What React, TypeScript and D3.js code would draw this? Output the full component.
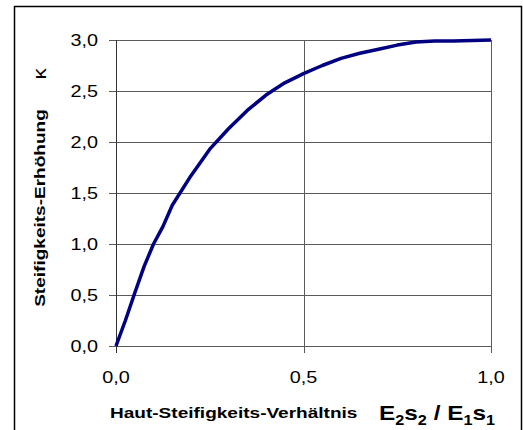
import { useEffect, useRef } from "react";
import * as d3 from "d3";

// Haut-Steifigkeits-Verhältnis (x) vs. Steifigkeits-Erhöhung kappa (y)
const ratio = [0, 0.025, 0.05, 0.075, 0.1, 0.125, 0.15, 0.2, 0.25, 0.3, 0.35, 0.4, 0.45, 0.5, 0.55, 0.6, 0.65, 0.7, 0.75, 0.8, 0.85, 0.9, 0.95, 1.0];
const kappa = [0, 0.25, 0.52, 0.78, 1.0, 1.17, 1.38, 1.67, 1.93, 2.13, 2.31, 2.46, 2.58, 2.67, 2.75, 2.82, 2.87, 2.91, 2.95, 2.98, 2.99, 2.99, 2.995, 3.0];

const yTicks = [0, 0.5, 1.0, 1.5, 2.0, 2.5, 3.0];
const xTicks = [0, 0.5, 1.0];

const fmt = (v: number) => v.toFixed(1).replace(".", ",");

export default function App() {
  const svgRef = useRef<SVGSVGElement>(null);

  useEffect(() => {
    if (!svgRef.current) return;
    const svg = d3.select(svgRef.current);
    svg.selectAll("*").remove();

    const font = "'Liberation Sans', Arial, sans-serif";
    const plot = { left: 116, right: 491, top: 40, bottom: 346 };
    // the source picture is stretched sideways, text included
    const sx = 1.24;

    const x = d3.scaleLinear().domain([0, 1]).range([plot.left, plot.right]);
    const y = d3.scaleLinear().domain([0, 3]).range([plot.bottom, plot.top]);

    // outer frame (bottom edge lies outside the picture)
    svg.append("path")
      .attr("d", "M14.5,440 V6.5 H521.5 V440")
      .style("fill", "none")
      .style("stroke", "#000")
      .style("stroke-width", 1.5);

    // horizontal grid lines + ticks
    svg.append("g")
      .selectAll("line")
      .data(yTicks)
      .enter()
      .append("line")
      .attr("x1", plot.left - 7)
      .attr("x2", plot.right)
      .attr("y1", (d) => Math.round(y(d)) + 0.5)
      .attr("y2", (d) => Math.round(y(d)) + 0.5)
      .style("stroke", "#5a5a5a")
      .style("stroke-width", 1);

    // vertical grid lines + ticks
    svg.append("g")
      .selectAll("line")
      .data(xTicks)
      .enter()
      .append("line")
      .attr("x1", (d) => Math.round(x(d)) + 0.5)
      .attr("x2", (d) => Math.round(x(d)) + 0.5)
      .attr("y1", plot.top)
      .attr("y2", plot.bottom + 7)
      .style("stroke", (d) => (d === 0 ? "#333" : "#5a5a5a"))
      .style("stroke-width", 1);

    // y tick labels
    svg.append("g")
      .selectAll("text")
      .data(yTicks)
      .enter()
      .append("text")
      .attr("transform", (d) => `translate(98,${y(d)}) scale(${sx},1)`)
      .attr("dy", "0.36em")
      .attr("text-anchor", "end")
      .style("font-family", font)
      .style("font-size", "16px")
      .style("fill", "#000")
      .text((d) => fmt(d));

    // x tick labels
    svg.append("g")
      .selectAll("text")
      .data(xTicks)
      .enter()
      .append("text")
      .attr("transform", (d) => `translate(${x(d)},383) scale(${sx},1)`)
      .attr("text-anchor", "middle")
      .style("font-family", font)
      .style("font-size", "16px")
      .style("fill", "#000")
      .text((d) => fmt(d));

    // curve
    svg.append("path")
      .datum(kappa)
      .attr("d", d3.line<number>().x((d, i) => x(ratio[i])).y((d) => y(d)))
      .style("fill", "none")
      .style("stroke", "#000080")
      .style("stroke-width", 3.5)
      .style("stroke-linejoin", "round");

    // x axis title
    svg.append("text")
      .attr("transform", `translate(110,418) scale(${sx + 0.03},1)`)
      .style("font-family", font)
      .style("font-size", "15px")
      .style("font-weight", "bold")
      .text("Haut-Steifigkeits-Verhältnis");

    const frac = svg.append("text")
      .attr("transform", "translate(379,420) scale(1.16,1)")
      .style("font-family", font)
      .style("font-weight", "bold")
      .style("font-size", "21px");
    const parts: [string, boolean][] = [["E", false], ["2", true], ["s", false], ["2", true], [" / E", false], ["1", true], ["s", false], ["1", true]];
    parts.forEach(([t, sub], i) => {
      const prevSub = i > 0 && parts[i - 1][1];
      frac.append("tspan")
        .attr("dy", sub ? 5 : prevSub ? -5 : 0)
        .style("font-size", sub ? "14px" : "21px")
        .text(t);
    });

    // y axis title
    svg.append("text")
      .attr("transform", `translate(45,208) rotate(-90) scale(${sx + 0.03},1)`)
      .attr("text-anchor", "middle")
      .style("font-family", font)
      .style("font-size", "15px")
      .style("font-weight", "bold")
      .text("Steifigkeits-Erhöhung");

    svg.append("text")
      .attr("transform", `translate(46,74) rotate(-90) scale(${sx},1)`)
      .attr("text-anchor", "middle")
      .style("font-family", font)
      .style("font-size", "18px")
      .text("κ");
  }, []);

  return (
    <svg
      ref={svgRef}
      width={523}
      height={430}
      style={{ position: "fixed", left: 0, top: 0, background: "#fff" }}
    />
  );
}
